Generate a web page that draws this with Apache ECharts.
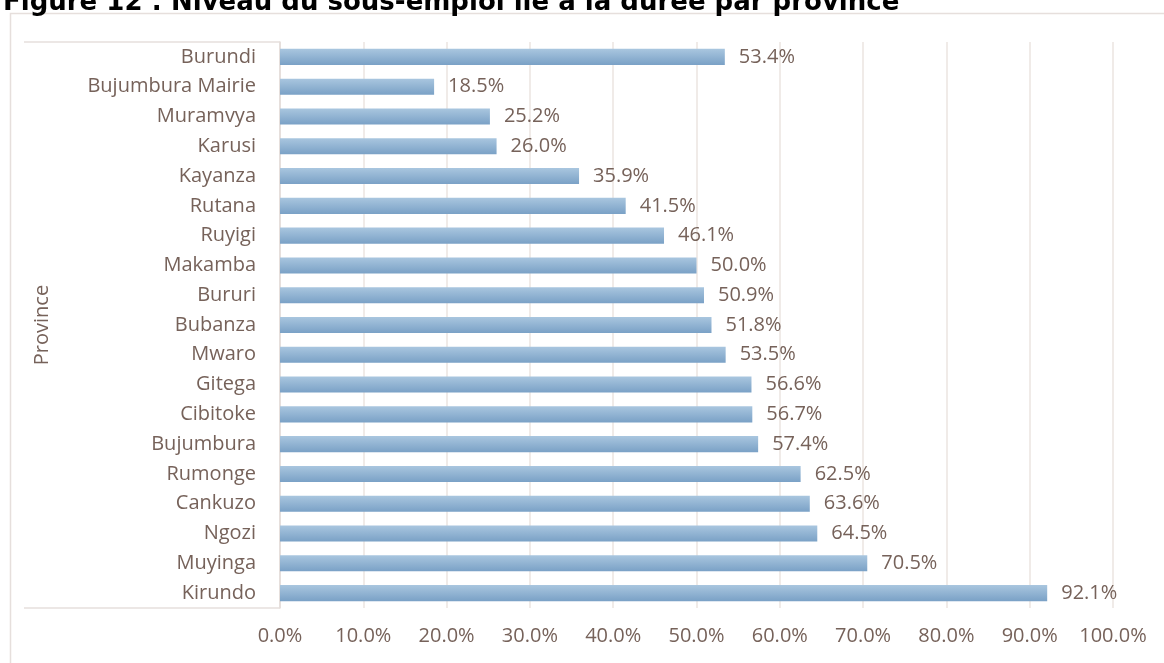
<!DOCTYPE html>
<html>
<head>
<meta charset="utf-8">
<script src="https://cdn.jsdelivr.net/npm/echarts@6/dist/echarts.min.js"></script>
<style>
  html, body { margin: 0; padding: 0; background: #fff; }
  #chart { width: 1164px; height: 663px; }
</style>
</head>
<body>
<div id="chart"></div>
<script>
// Provinces, top to bottom
var provinces = ['Burundi', 'Bujumbura Mairie', 'Muramvya', 'Karusi', 'Kayanza', 'Rutana',
  'Ruyigi', 'Makamba', 'Bururi', 'Bubanza', 'Mwaro', 'Gitega', 'Cibitoke', 'Bujumbura',
  'Rumonge', 'Cankuzo', 'Ngozi', 'Muyinga', 'Kirundo'];
// Time-related underemployment rate (%)
var rates = [53.4, 18.5, 25.2, 26.0, 35.9, 41.5, 46.1, 50.0, 50.9, 51.8, 53.5, 56.6, 56.7,
  57.4, 62.5, 63.6, 64.5, 70.5, 92.1];
var axisMin = 0, axisMax = 100, axisStep = 10;

var textColor = '#76625a';
var font = '"Open Sans", "Noto Sans", sans-serif';
var fontSize = 20;

var chart = echarts.init(document.getElementById('chart'));
chart.setOption({
  animation: false,
  title: {
    text: 'Figure 12 : Niveau du sous-emploi lié à la durée par province',
    left: -2, top: -15,
    textStyle: { fontFamily: '"DejaVu Sans", Verdana, sans-serif', fontWeight: 'bold', fontSize: 26, color: '#000' }
  },
  grid: { left: 280, right: 51, top: 42, bottom: 55, containLabel: false },
  xAxis: {
    type: 'value', min: axisMin, max: axisMax, interval: axisStep,
    axisLine: { show: false }, axisTick: { show: false },
    splitLine: { show: true, lineStyle: { color: '#ebe4e1', width: 1.5 } },
    axisLabel: { color: textColor, fontFamily: font, fontSize: fontSize, margin: 18,
      formatter: function (v) { return v.toFixed(1) + '%'; } }
  },
  yAxis: {
    type: 'category', data: provinces, inverse: true,
    name: 'Province', nameLocation: 'middle', nameGap: 228, nameRotate: 90,
    nameTextStyle: { color: textColor, fontFamily: font, fontSize: fontSize },
    axisLine: { show: true, lineStyle: { color: '#e3dbd8', width: 1.5 } },
    axisTick: { show: false },
    axisLabel: { color: textColor, fontFamily: font, fontSize: fontSize, margin: 24 }
  },
  series: [{
    type: 'bar', data: rates, barCategoryGap: '46%',
    itemStyle: {
      color: new echarts.graphic.LinearGradient(0, 0, 0, 1, [
        { offset: 0, color: '#a9c6df' },
        { offset: 1, color: '#7aa1c6' }
      ])
    },
    label: {
      show: true, position: 'right', distance: 14,
      color: textColor, fontFamily: font, fontSize: fontSize,
      formatter: function (p) { return p.value.toFixed(1) + '%'; }
    }
  }],
  graphic: [
    // outer chart frame
    { type: 'rect', shape: { x: 10.5, y: 13.5, width: 1200, height: 700 },
      style: { fill: 'none', stroke: '#e6dfdc', lineWidth: 1.5 }, silent: true },
    // category label box
    { type: 'polyline', shape: { points: [[24, 42], [280, 42]] },
      style: { stroke: '#e6dfdc', lineWidth: 1.5, fill: 'none' }, silent: true },
    { type: 'polyline', shape: { points: [[24, 608], [280, 608]] },
      style: { stroke: '#e6dfdc', lineWidth: 1.5, fill: 'none' }, silent: true }
  ]
});
</script>
</body>
</html>
